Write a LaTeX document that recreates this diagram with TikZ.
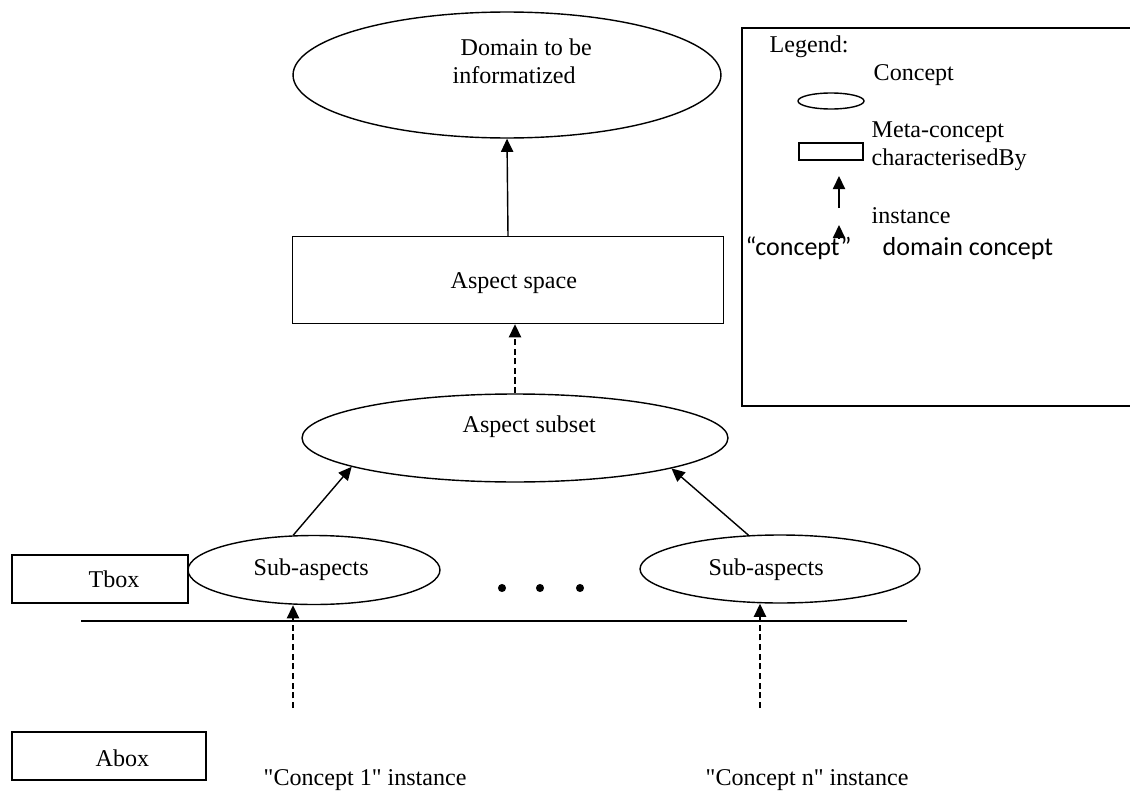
\documentclass[tikz,border=0pt]{standalone}
\usepackage{fontspec}
\setmainfont{Liberation Serif}[Ligatures=TeXOff]
\newfontfamily\calfont{Carlito}
\usetikzlibrary{shapes.geometric,arrows.meta}

\begin{document}
\begin{tikzpicture}[x=0.02cm, y=-0.02cm, line width=0.8pt, font=\fontsize{13.7}{16}\selectfont,
  concept/.style={draw, ellipse, inner sep=0pt},
  meta/.style={draw, rectangle, inner sep=0pt},
  txt/.style={anchor=base west, inner sep=0pt},
  sub/.style={-{Triangle[length=7.5pt, width=7pt]}},
  inst/.style={sub, dash pattern=on 3.5pt off 2pt}]
\useasboundingbox (0,0) rectangle (1130,791);
% main hierarchy
\node[concept, minimum width=8.56cm, minimum height=2.52cm] (domain) at (507,75) {};
\node[txt] (domainA) at (460,55) {Domain to be};
\node[txt] (domainB) at (452,83) {informatized};
\node[meta, minimum width=8.62cm, minimum height=1.74cm] (space) at (508,280) {};
\node[txt] (spaceT) at (450,288) {Aspect space};
\node[concept, minimum width=8.52cm, minimum height=1.76cm] (subset) at (515,438) {};
\node[txt] (subsetT) at (462,432) {Aspect subset};
\node[concept, minimum width=5.04cm, minimum height=1.38cm] (subL) at (314,570) {};
\node[txt] (subLT) at (253,575) {Sub-aspects};
\node[concept, minimum width=5.6cm, minimum height=1.36cm] (subR) at (780,569) {};
\node[txt] (subRT) at (708,575) {Sub-aspects};
\foreach \x [count=\i] in {502,540,580}
  \node[circle, fill, inner sep=0pt, minimum size=4.6pt] (dot\i) at (\x,588) {};
\draw[sub] (space.north) -- (domain.south);
\draw[inst] (subset.north) -- (subset.north |- space.south);
\draw[sub] (subL.121) -- (subset.190);
\draw[sub] (subR.133) -- (subset.-11);
% Tbox / Abox
\node[meta, minimum width=3.52cm, minimum height=0.96cm] (tbox) at (100,579) {};
\node[txt] (tboxT) at (88,587) {Tbox};
\node[meta, minimum width=3.88cm, minimum height=0.96cm] (abox) at (109,756) {};
\node[txt] (aboxT) at (95,766) {Abox};
\coordinate (lineL) at (81,621);
\coordinate (lineR) at (907,621);
\draw (lineL) -- (lineR);
\coordinate (inst1) at (293,708);
\coordinate (instn) at (760,708);
\draw[inst] (inst1) -- (inst1 |- subL.south);
\draw[inst] (instn) -- (instn |- subR.south);
\node[txt] (inst1T) at (263,785) {"Concept 1" instance};
\node[txt] (instnT) at (705,785) {"Concept n" instance};
% legend
\node[meta, line width=1pt, minimum width=7.96cm, minimum height=7.56cm] (legend) at (941,217) {};
\node[txt] (legT) at (769,52) {Legend:};
\node[txt] (legC) at (873,80) {Concept};
\node[concept, minimum width=1.32cm, minimum height=0.32cm] (legCsym) at (831,101) {};
\node[txt] (legM) at (871,137) {Meta-concept};
\node[meta, minimum width=1.28cm, minimum height=0.34cm] (legMsym) at (831,151.5) {};
\node[txt] (legB) at (871,165) {characterisedBy};
\coordinate (legBa) at (839,208);
\coordinate (legBb) at (839,176);
\draw[sub] (legBa) -- (legBb);
\node[txt] (legI) at (871,223) {instance};
\node[txt, font=\calfont\fontsize{14.8}{17}\selectfont] (legQ) at (745,255) {“concept”};
\node[txt, font=\calfont\fontsize{14.8}{17}\selectfont] (legD) at (882,255) {domain concept};
\coordinate (legIa) at (839,238);
\coordinate (legIb) at (839,225);
\draw[sub] (legIa) -- (legIb);
\end{tikzpicture}
\end{document}
